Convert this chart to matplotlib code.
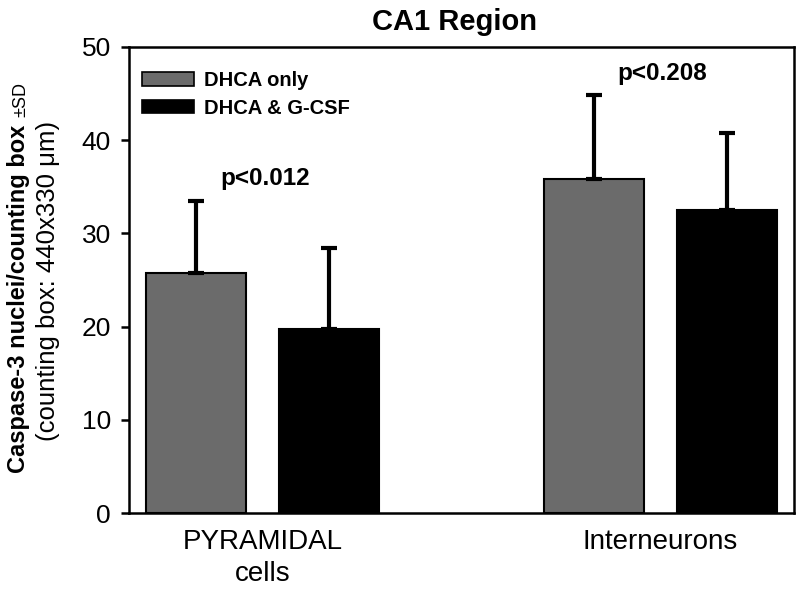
import numpy as np
import matplotlib
matplotlib.use("Agg")
import matplotlib.pyplot as plt
from matplotlib.patches import Patch

plt.rcParams['font.family'] = ['Liberation Sans', 'DejaVu Sans']

# ------ data ------
groups = ['PYRAMIDAL\ncells', 'Interneurons']
series = ['DHCA only', 'DHCA & G-CSF']
dhca_only = [25.8, 35.8]
dhca_only_sd = [7.7, 9.0]
dhca_gcsf = [19.7, 32.5]
dhca_gcsf_sd = [8.7, 8.3]
p_labels = ['p<0.012', 'p<0.208']
p_heights = [35.9, 47.1]

colors = ['#6b6b6b', '#000000']

W, H = 800, 593
fig = plt.figure(figsize=(8, 5.93), dpi=100)
ax = fig.add_axes([129 / W, 1 - 513.3 / H, 665 / W, 466.6 / H])

x = np.arange(len(groups))
off = 0.1673
w = 0.2516

err_kw = dict(ecolor='black', elinewidth=3, capsize=6, capthick=3)
ax.bar(x - off, dhca_only, w, color=colors[0], edgecolor='black', linewidth=1.5,
       yerr=[np.zeros(2), dhca_only_sd], error_kw=err_kw, zorder=2)
ax.bar(x + off, dhca_gcsf, w, color=colors[1], edgecolor='black', linewidth=1.5,
       yerr=[np.zeros(2), dhca_gcsf_sd], error_kw=err_kw, zorder=2)

for i, lab in enumerate(p_labels):
    ax.text(x[i] + 0.005, p_heights[i], lab, ha='center', va='center',
            fontsize=17.5, fontweight='bold')

ax.set_xlim(-0.337, 1.336)
ax.set_ylim(0, 50)
ax.set_yticks(np.arange(0, 51, 10))
ax.set_xticks(x)
ax.set_xticklabels(groups, fontsize=20, linespacing=1.3)
ax.tick_params(axis='x', length=0, pad=11)
ax.tick_params(axis='y', labelsize=19, direction='out', length=6, width=1.8, pad=7)
for s in ax.spines.values():
    s.set_linewidth(1.8)

ax.set_title('CA1 Region', fontsize=21, fontweight='bold', pad=12, x=0.49)

handles = [Patch(facecolor=colors[0], edgecolor='black', linewidth=1.2),
           Patch(facecolor=colors[1], edgecolor='black', linewidth=1.2)]
leg = ax.legend(handles, series, loc='upper left', frameon=False,
                prop={'size': 14.5, 'weight': 'bold'}, handlelength=2.55,
                handleheight=0.65, handletextpad=0.5, labelspacing=0.42,
                borderaxespad=0.0, bbox_to_anchor=(0.008, 0.965))

# y label: bold first line with small ±SD, normal second line
fig.text(25 / W, 1 - 473 / H, 'Caspase-3 nuclei/counting box', rotation=90,
         rotation_mode='anchor', ha='left', va='baseline',
         fontsize=17, fontweight='bold')
fig.text(25 / W, 1 - 117 / H, '\u00b1SD', rotation=90,
         rotation_mode='anchor', ha='left', va='baseline', fontsize=13)
fig.text(48 / W, 1 - 281 / H, '(counting box: 440x330 \u03bcm)', rotation=90,
         rotation_mode='anchor', ha='center', va='center', fontsize=18.5)

fig.savefig('out.png', dpi=100)
